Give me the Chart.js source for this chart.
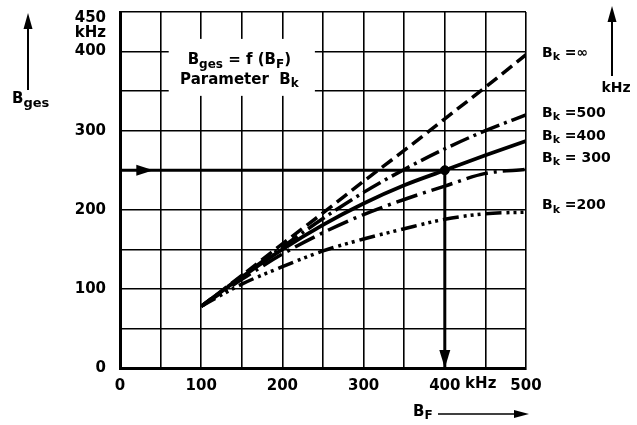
<!DOCTYPE html>
<html>
<head>
<meta charset="utf-8">
<script src="https://cdn.jsdelivr.net/npm/chart.js@4.4.1/dist/chart.umd.min.js"></script>
<style>
  html, body { margin: 0; padding: 0; background: #fff; }
  canvas { display: block; }
</style>
</head>
<body>
<canvas id="bandChart" width="637" height="425"></canvas>
<script>
// --------------------------------------------------- DATA
const bfValues = [100, 150, 200, 250, 300, 350, 400, 450, 500]
const bkInf = [78, 117, 157, 196, 236, 275, 315, 355, 396]
const bk500 = [78, 116, 153, 189, 222, 251, 277, 300, 320]
const bk400 = [78, 115, 150, 181, 208, 231, 250, 269, 287]
const bk300 = [78, 112, 144, 171, 194, 213, 230, 246, 251]
const bk200 = [78, 106, 128, 148, 163, 176, 188, 195, 197]
const seriesNames = ['\u221e', '500', '400', ' 300', '200']
const labelValues = [398, 322, 293, 265, 205]   // y value of the right-hand labels
const markX = [0, 400, 400]
const markY = [250, 250, 0]
const xTickLabels = [0, 100, 200, 300, 400, 500]
const yTickLabels = [0, 100, 200, 300, 400]

const FONT = 'DejaVu Sans'
const INK = '#000'

function toPoints(xs, ys) {
  return xs.map((x, i) => ({ x: x, y: ys[i] }))
}

// text with subscript parts: [[text, isSub], ...]
function drawParts(ctx, parts, x, y, size, align, subRatio) {
  const subSize = Math.round(size * (subRatio || 0.8))
  let total = 0
  parts.forEach(p => {
    ctx.font = 'bold ' + (p[1] ? subSize : size) + 'px "' + FONT + '"'
    total += ctx.measureText(p[0]).width
  })
  let cx = x
  if (align === 'center') cx = x - total / 2
  if (align === 'right') cx = x - total
  ctx.textAlign = 'left'
  ctx.textBaseline = 'middle'
  parts.forEach(p => {
    ctx.font = 'bold ' + (p[1] ? subSize : size) + 'px "' + FONT + '"'
    ctx.fillText(p[0], cx, p[1] ? y + size * 0.28 : y)
    cx += ctx.measureText(p[0]).width
  })
}

function arrowHead(ctx, tipX, tipY, dir, len, half) {
  ctx.beginPath()
  if (dir === 'right') {
    ctx.moveTo(tipX, tipY); ctx.lineTo(tipX - len, tipY - half); ctx.lineTo(tipX - len, tipY + half)
  } else if (dir === 'down') {
    ctx.moveTo(tipX, tipY); ctx.lineTo(tipX - half, tipY - len); ctx.lineTo(tipX + half, tipY - len)
  } else {
    ctx.moveTo(tipX, tipY); ctx.lineTo(tipX - half, tipY + len); ctx.lineTo(tipX + half, tipY + len)
  }
  ctx.closePath()
  ctx.fill()
}

const decorPlugin = {
  id: 'decor',
  beforeDatasetsDraw(chart) {
    const { ctx, scales: { x, y } } = chart
    // white box behind the formula, hides the grid
    ctx.save()
    ctx.fillStyle = '#fff'
    const bx0 = x.getPixelForValue(60), bx1 = x.getPixelForValue(240)
    const by0 = y.getPixelForValue(416), by1 = y.getPixelForValue(344)
    ctx.fillRect(bx0, by0, bx1 - bx0, by1 - by0)
    ctx.fillStyle = INK
    const cx = x.getPixelForValue(147)
    drawParts(ctx, [['B', false], ['ges', true], [' = f (B', false], ['F', true], [')', false]], cx, y.getPixelForValue(389), 15, 'center')
    drawParts(ctx, [['Parameter  B', false], ['k', true]], cx, y.getPixelForValue(364), 15, 'center')
    ctx.restore()
  },
  afterDatasetsDraw(chart) {
    const { ctx, chartArea, scales: { x, y } } = chart
    ctx.save()
    ctx.fillStyle = INK
    ctx.strokeStyle = INK

    // arrowheads on the reading line
    arrowHead(ctx, x.getPixelForValue(41), y.getPixelForValue(markY[0]), 'right', 17, 5.5)
    arrowHead(ctx, x.getPixelForValue(markX[2]), y.getPixelForValue(markY[2]), 'down', 18, 5.5)

    // curve labels on the right
    const lx = chartArea.right + 16
    seriesNames.forEach((name, i) => {
      drawParts(ctx, [['B', false], ['k', true], [' =' + name, false]], lx, y.getPixelForValue(labelValues[i]), 14, 'left')
    })

    // right axis unit with arrow
    ctx.lineWidth = 2
    ctx.beginPath(); ctx.moveTo(612, 76); ctx.lineTo(612, 18); ctx.stroke()
    arrowHead(ctx, 612, 6, 'up', 16, 4.5)
    drawParts(ctx, [['kHz', false]], 616, 88, 14, 'center')

    // left axis title with arrow
    ctx.beginPath(); ctx.moveTo(28, 90); ctx.lineTo(28, 26); ctx.stroke()
    arrowHead(ctx, 28, 13, 'up', 16, 4.5)
    drawParts(ctx, [['B', false], ['ges', true]], 12, 99, 15, 'left', 0.87)

    // top y label and unit
    drawParts(ctx, [['450', false]], chartArea.left - 14, 18, 15, 'right')
    drawParts(ctx, [['kHz', false]], chartArea.left - 14, 33, 15, 'right')

    // x unit and title
    drawParts(ctx, [['kHz', false]], x.getPixelForValue(425), 384, 15, 'left')
    drawParts(ctx, [['B', false], ['F', true]], 413, 412, 15, 'left')
    ctx.lineWidth = 1.5
    ctx.beginPath(); ctx.moveTo(438, 414); ctx.lineTo(516, 414); ctx.stroke()
    arrowHead(ctx, 529, 414, 'right', 15, 4)
    ctx.restore()
  }
}

function curve(values, dash, width) {
  return {
    data: toPoints(bfValues, values),
    borderColor: INK,
    borderWidth: width,
    borderDash: dash,
    borderCapStyle: 'butt',
    pointRadius: 0,
    cubicInterpolationMode: 'monotone',
    fill: false
  }
}

const tickFont = { family: FONT, size: 15, weight: 'bold' }

new Chart(document.getElementById('bandChart'), {
  type: 'line',
  data: {
    datasets: [
      curve(bkInf, [13, 6], 3.5),
      curve(bk500, [20, 5, 3, 5], 3.5),
      curve(bk400, [], 3.8),
      curve(bk300, [22, 6, 3, 6], 3.5),
      curve(bk200, [16, 5, 3, 4, 3, 4, 3, 5], 3.5),
      {
        data: toPoints(markX, markY),
        borderColor: INK,
        borderWidth: 3,
        pointRadius: 0,
        tension: 0,
        fill: false
      },
      {
        data: [{ x: markX[1], y: markY[1] }],
        showLine: false,
        pointRadius: 4.5,
        pointBackgroundColor: INK,
        pointBorderColor: INK
      }
    ]
  },
  options: {
    responsive: false,
    animation: false,
    devicePixelRatio: 1,
    layout: { padding: { left: 0, right: 111, top: 12, bottom: 0 } },
    plugins: { legend: { display: false }, tooltip: { enabled: false } },
    scales: {
      x: {
        type: 'linear',
        min: 0,
        max: 500,
        afterFit: s => { s.height = 57; s.paddingLeft = 0; s.paddingRight = 0 },
        afterBuildTicks: s => { s.ticks = [0, 50, 100, 150, 200, 250, 300, 350, 400, 450, 500].map(v => ({ value: v })) },
        ticks: {
          color: INK,
          font: tickFont,
          padding: 9,
          maxRotation: 0,
          autoSkip: false,
          callback: v => xTickLabels.includes(v) ? String(v) : ''
        },
        grid: { color: INK, lineWidth: 1.6, drawTicks: false },
        border: { color: INK, width: 3 }
      },
      y: {
        type: 'linear',
        min: 0,
        max: 450,
        afterFit: s => { s.width = 120; s.paddingTop = 0; s.paddingBottom = 0 },
        afterBuildTicks: s => { s.ticks = [0, 50, 100, 150, 200, 250, 300, 350, 400, 450].map(v => ({ value: v })) },
        ticks: {
          color: INK,
          font: tickFont,
          padding: 14,
          autoSkip: false,
          callback: v => yTickLabels.includes(v) ? String(v) : ''
        },
        grid: { color: INK, lineWidth: 1.6, drawTicks: false },
        border: { color: INK, width: 3 }
      }
    }
  },
  plugins: [decorPlugin]
})
</script>
</body>
</html>
